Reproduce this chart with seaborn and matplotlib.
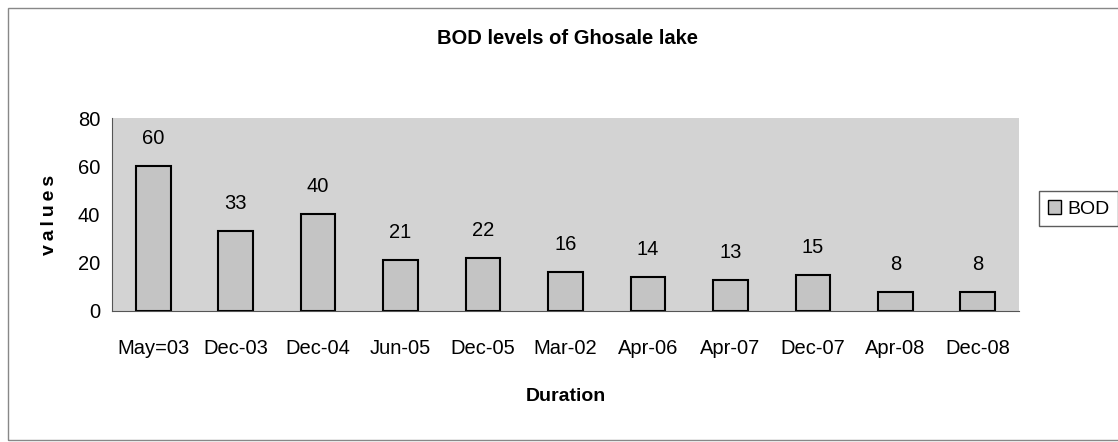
import matplotlib
matplotlib.use("Agg")
import matplotlib.pyplot as plt
import seaborn as sns
import pandas as pd
from matplotlib.patches import Rectangle

# datos
fechas = ['May=03', 'Dec-03', 'Dec-04', 'Jun-05', 'Dec-05', 'Mar-02',
          'Apr-06', 'Apr-07', 'Dec-07', 'Apr-08', 'Dec-08']
bod = [60, 33, 40, 21, 22, 16, 14, 13, 15, 8, 8]
yticks = [0, 20, 40, 60, 80]

df = pd.DataFrame({'Duration': fechas, 'BOD': bod})

sns.set_style('white')
plt.rcParams['font.family'] = ['Liberation Sans', 'DejaVu Sans']
plt.rcParams['text.color'] = 'black'
plt.rcParams['axes.labelcolor'] = 'black'
plt.rcParams['xtick.labelcolor'] = 'black'
plt.rcParams['ytick.labelcolor'] = 'black'

fig = plt.figure(figsize=(11.18, 4.42), dpi=100)
ax = fig.add_axes([112 / 1118, 1 - 311 / 442, (1019 - 112) / 1118, (311 - 118) / 442])

sns.barplot(data=df, x='Duration', y='BOD', ax=ax, color='#c4c4c4',
            edgecolor='black', linewidth=1.5, width=0.42, saturation=1)

ax.set_facecolor('#d3d3d3')
ax.set_ylim(0, 80)
ax.set_yticks(yticks)
ax.set_xlim(-0.5, len(fechas) - 0.5)

# etiquetas de valor encima de cada barra
for i, v in enumerate(bod):
    ax.annotate(str(v), (i, v), xytext=(0, 13), textcoords='offset points',
                ha='center', va='bottom', fontsize=14.5)

for s in ['top', 'right']:
    ax.spines[s].set_visible(False)
ax.spines['left'].set_color('#555555')
ax.spines['bottom'].set_color('#555555')

# ticks del eje x entre categorias
ax.set_xticks([i - 0.5 for i in range(len(fechas) + 1)], minor=True)
ax.tick_params(axis='x', which='major', length=0, labelsize=14.5, pad=20)
ax.tick_params(axis='x', which='minor', length=6, direction='out', color='#555555')
ax.tick_params(axis='y', length=5, direction='out', labelsize=14.5, color='#555555')

ax.set_xlabel('Duration', fontsize=14, fontweight='bold', labelpad=22)
ax.set_ylabel('v\u2009a\u2009l\u2009u\u2009e\u2009s', fontsize=14, fontweight='bold', labelpad=14)

fig.text(0.508, 1 - 38 / 442, 'BOD levels of Ghosale lake', ha='center', va='center',
         fontsize=14.5, fontweight='bold')

# leyenda
leg = ax.legend(handles=[Rectangle((0, 0), 1, 1, facecolor='#c4c4c4', edgecolor='black')],
                labels=['BOD'], loc='center left', bbox_to_anchor=(1.022, 0.53),
                fontsize=14, frameon=True, fancybox=False, handlelength=0.7,
                handleheight=0.7, handletextpad=0.3, borderpad=0.45, borderaxespad=0)
leg.get_frame().set_edgecolor('#333333')
leg.get_frame().set_linewidth(1)

# marco exterior
fig.patches.append(Rectangle((8 / 1118, 2 / 442), 1.2, 1 - 10 / 442, transform=fig.transFigure,
                             fill=False, edgecolor='#888888', linewidth=1))

fig.savefig('out.png', dpi=100)
